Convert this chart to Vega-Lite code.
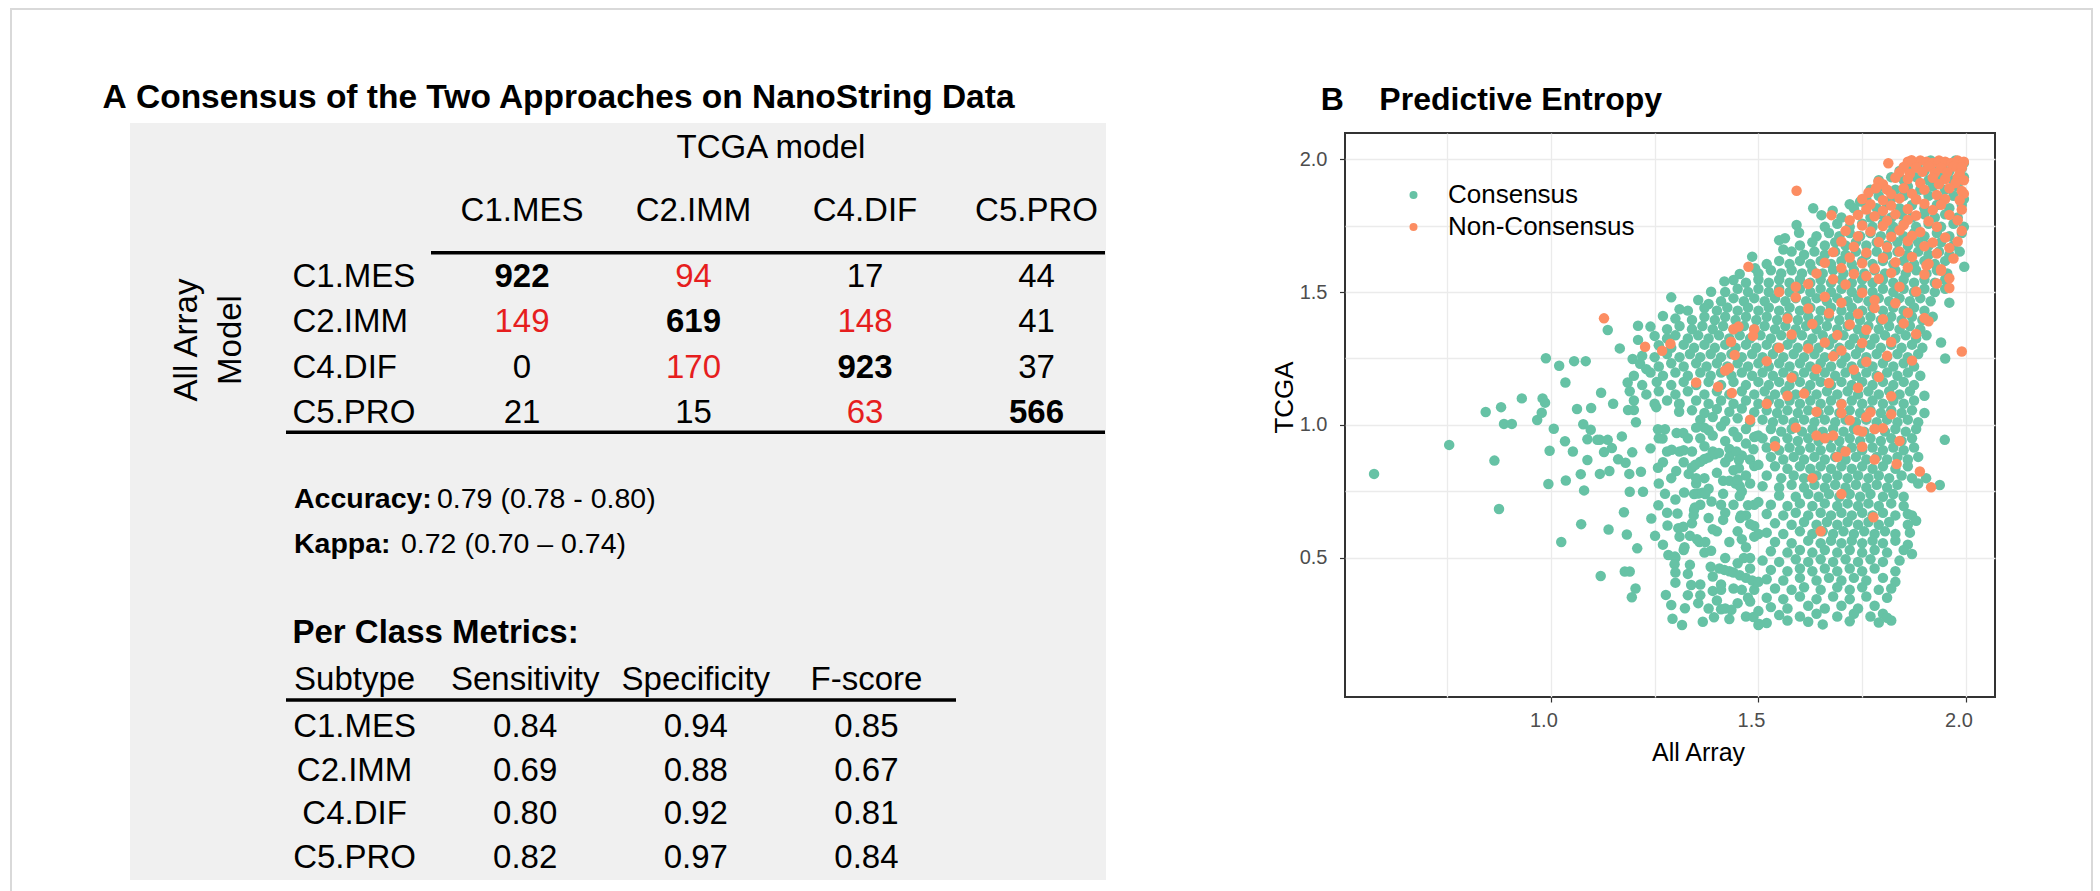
{
"$schema":"https://vega.github.io/schema/vega-lite/v6.json",
"width":650,"height":564,
"autosize":{"type":"none"},
"padding":{"left":1345,"top":133,"right":105,"bottom":194},
"background":"white",
"config":{"font":"Liberation Sans","view":{"stroke":"#333333","strokeWidth":2}},
"datasets":{
"cols":[{"c":"C1.MES"},{"c":"C2.IMM"},{"c":"C4.DIF"},{"c":"C5.PRO"}],
"cm":[
{"r":"C1.MES","c":"C1.MES","n":922},{"r":"C1.MES","c":"C2.IMM","n":94},{"r":"C1.MES","c":"C4.DIF","n":17},{"r":"C1.MES","c":"C5.PRO","n":44},
{"r":"C2.IMM","c":"C1.MES","n":149},{"r":"C2.IMM","c":"C2.IMM","n":619},{"r":"C2.IMM","c":"C4.DIF","n":148},{"r":"C2.IMM","c":"C5.PRO","n":41},
{"r":"C4.DIF","c":"C1.MES","n":0},{"r":"C4.DIF","c":"C2.IMM","n":170},{"r":"C4.DIF","c":"C4.DIF","n":923},{"r":"C4.DIF","c":"C5.PRO","n":37},
{"r":"C5.PRO","c":"C1.MES","n":21},{"r":"C5.PRO","c":"C2.IMM","n":15},{"r":"C5.PRO","c":"C4.DIF","n":63},{"r":"C5.PRO","c":"C5.PRO","n":566}],
"agree":[{"k":"Accuracy:","v":"0.79 (0.78 - 0.80)"},{"k":"Kappa:","v":"0.72 (0.70 – 0.74)"}],
"mhead":[{"h":"Subtype"},{"h":"Sensitivity"},{"h":"Specificity"},{"h":"F-score"}],
"metrics":[
{"Subtype":"C1.MES","Sensitivity":0.84,"Specificity":0.94,"F-score":0.85},
{"Subtype":"C2.IMM","Sensitivity":0.69,"Specificity":0.88,"F-score":0.67},
{"Subtype":"C4.DIF","Sensitivity":0.80,"Specificity":0.92,"F-score":0.81},
{"Subtype":"C5.PRO","Sensitivity":0.82,"Specificity":0.97,"F-score":0.84}],
"cons":[
{"a":1.885,"t":1.985},{"a":1.915,"t":1.995},{"a":1.945,"t":1.985},{"a":1.975,"t":1.995},{"a":1.995,"t":1.985},
{"a":1.84,"t":1.955},{"a":1.87,"t":1.965},{"a":1.9,"t":1.955},{"a":1.93,"t":1.965},{"a":1.96,"t":1.955},{"a":1.99,"t":1.965},
{"a":1.79,"t":1.92},{"a":1.82,"t":1.932},{"a":1.85,"t":1.92},{"a":1.88,"t":1.932},{"a":1.91,"t":1.92},{"a":1.94,"t":1.932},{"a":1.97,"t":1.92},{"a":1.995,"t":1.932},
{"a":1.77,"t":1.885},{"a":1.8,"t":1.897},{"a":1.83,"t":1.885},{"a":1.86,"t":1.897},{"a":1.89,"t":1.885},{"a":1.92,"t":1.897},{"a":1.95,"t":1.885},{"a":1.98,"t":1.897},
{"a":1.72,"t":1.83},{"a":1.745,"t":1.84},{"a":1.76,"t":1.85},{"a":1.79,"t":1.862},{"a":1.82,"t":1.85},{"a":1.85,"t":1.862},{"a":1.88,"t":1.85},{"a":1.91,"t":1.862},{"a":1.94,"t":1.85},{"a":1.97,"t":1.862},{"a":1.995,"t":1.85},
{"a":1.632,"t":1.815},{"a":1.679,"t":1.806},{"a":1.73,"t":1.815},{"a":1.76,"t":1.827},{"a":1.785,"t":1.815},{"a":1.81,"t":1.827},{"a":1.84,"t":1.815},{"a":1.87,"t":1.827},{"a":1.9,"t":1.815},{"a":1.93,"t":1.827},{"a":1.96,"t":1.815},{"a":1.99,"t":1.827},
{"a":1.652,"t":1.789},{"a":1.7,"t":1.78},{"a":1.74,"t":1.792},{"a":1.77,"t":1.78},{"a":1.795,"t":1.792},{"a":1.82,"t":1.78},{"a":1.845,"t":1.792},{"a":1.87,"t":1.78},{"a":1.9,"t":1.792},{"a":1.925,"t":1.78},{"a":1.95,"t":1.792},{"a":1.98,"t":1.78},
{"a":1.592,"t":1.752},{"a":1.66,"t":1.745},{"a":1.69,"t":1.757},{"a":1.72,"t":1.745},{"a":1.75,"t":1.757},{"a":1.775,"t":1.745},{"a":1.8,"t":1.757},{"a":1.825,"t":1.745},{"a":1.85,"t":1.757},{"a":1.88,"t":1.745},{"a":1.91,"t":1.757},{"a":1.94,"t":1.745},{"a":1.97,"t":1.757},{"a":1.995,"t":1.745},
{"a":1.55,"t":1.695},{"a":1.598,"t":1.723},{"a":1.64,"t":1.71},{"a":1.67,"t":1.722},{"a":1.695,"t":1.71},{"a":1.72,"t":1.722},{"a":1.745,"t":1.71},{"a":1.77,"t":1.722},{"a":1.795,"t":1.71},{"a":1.82,"t":1.722},{"a":1.85,"t":1.71},{"a":1.875,"t":1.722},{"a":1.9,"t":1.71},{"a":1.93,"t":1.722},{"a":1.96,"t":1.71},{"a":1.99,"t":1.722},
{"a":1.564,"t":1.702},{"a":1.6,"t":1.675},{"a":1.63,"t":1.687},{"a":1.66,"t":1.675},{"a":1.685,"t":1.687},{"a":1.71,"t":1.675},{"a":1.735,"t":1.687},{"a":1.76,"t":1.675},{"a":1.785,"t":1.687},{"a":1.81,"t":1.675},{"a":1.835,"t":1.687},{"a":1.86,"t":1.675},{"a":1.885,"t":1.687},{"a":1.91,"t":1.675},{"a":1.94,"t":1.687},{"a":1.97,"t":1.675},
{"a":1.485,"t":1.633},{"a":1.56,"t":1.66},{"a":1.58,"t":1.652},{"a":1.61,"t":1.64},{"a":1.635,"t":1.652},{"a":1.66,"t":1.64},{"a":1.685,"t":1.652},{"a":1.71,"t":1.64},{"a":1.735,"t":1.652},{"a":1.76,"t":1.64},{"a":1.785,"t":1.652},{"a":1.81,"t":1.64},{"a":1.835,"t":1.652},{"a":1.86,"t":1.64},{"a":1.885,"t":1.652},{"a":1.91,"t":1.64},{"a":1.935,"t":1.652},{"a":1.96,"t":1.64},{"a":1.985,"t":1.652},
{"a":1.492,"t":1.589},{"a":1.52,"t":1.605},{"a":1.55,"t":1.617},{"a":1.575,"t":1.605},{"a":1.6,"t":1.617},{"a":1.625,"t":1.605},{"a":1.65,"t":1.617},{"a":1.675,"t":1.605},{"a":1.7,"t":1.617},{"a":1.725,"t":1.605},{"a":1.75,"t":1.617},{"a":1.775,"t":1.605},{"a":1.8,"t":1.617},{"a":1.825,"t":1.605},{"a":1.85,"t":1.617},{"a":1.875,"t":1.605},{"a":1.9,"t":1.617},{"a":1.925,"t":1.605},{"a":1.95,"t":1.617},{"a":1.996,"t":1.595},
{"a":1.455,"t":1.568},{"a":1.5,"t":1.57},{"a":1.53,"t":1.582},{"a":1.555,"t":1.57},{"a":1.58,"t":1.582},{"a":1.605,"t":1.57},{"a":1.63,"t":1.582},{"a":1.655,"t":1.57},{"a":1.68,"t":1.582},{"a":1.705,"t":1.57},{"a":1.73,"t":1.582},{"a":1.755,"t":1.57},{"a":1.78,"t":1.582},{"a":1.805,"t":1.57},{"a":1.83,"t":1.582},{"a":1.855,"t":1.57},{"a":1.88,"t":1.582},{"a":1.905,"t":1.57},{"a":1.93,"t":1.582},{"a":1.955,"t":1.57},
{"a":1.418,"t":1.54},{"a":1.44,"t":1.545},{"a":1.47,"t":1.535},{"a":1.5,"t":1.547},{"a":1.525,"t":1.535},{"a":1.55,"t":1.547},{"a":1.575,"t":1.535},{"a":1.6,"t":1.547},{"a":1.625,"t":1.535},{"a":1.65,"t":1.547},{"a":1.675,"t":1.535},{"a":1.7,"t":1.547},{"a":1.725,"t":1.535},{"a":1.75,"t":1.547},{"a":1.775,"t":1.535},{"a":1.8,"t":1.547},{"a":1.825,"t":1.535},{"a":1.85,"t":1.547},{"a":1.875,"t":1.535},{"a":1.9,"t":1.547},{"a":1.925,"t":1.535},{"a":1.95,"t":1.547},
{"a":1.386,"t":1.501},{"a":1.42,"t":1.5},{"a":1.45,"t":1.512},{"a":1.475,"t":1.5},{"a":1.5,"t":1.512},{"a":1.525,"t":1.5},{"a":1.55,"t":1.512},{"a":1.575,"t":1.5},{"a":1.6,"t":1.512},{"a":1.625,"t":1.5},{"a":1.65,"t":1.512},{"a":1.675,"t":1.5},{"a":1.7,"t":1.512},{"a":1.725,"t":1.5},{"a":1.75,"t":1.512},{"a":1.775,"t":1.5},{"a":1.8,"t":1.512},{"a":1.825,"t":1.5},{"a":1.85,"t":1.512},{"a":1.875,"t":1.5},{"a":1.9,"t":1.512},{"a":1.925,"t":1.5},{"a":1.95,"t":1.512},
{"a":1.29,"t":1.48},{"a":1.355,"t":1.47},{"a":1.38,"t":1.455},{"a":1.41,"t":1.465},{"a":1.44,"t":1.477},{"a":1.465,"t":1.465},{"a":1.49,"t":1.477},{"a":1.515,"t":1.465},{"a":1.54,"t":1.477},{"a":1.565,"t":1.465},{"a":1.59,"t":1.477},{"a":1.615,"t":1.465},{"a":1.64,"t":1.477},{"a":1.665,"t":1.465},{"a":1.69,"t":1.477},{"a":1.715,"t":1.465},{"a":1.74,"t":1.477},{"a":1.765,"t":1.465},{"a":1.79,"t":1.477},{"a":1.815,"t":1.465},{"a":1.84,"t":1.477},{"a":1.865,"t":1.465},{"a":1.89,"t":1.477},{"a":1.915,"t":1.465},{"a":1.96,"t":1.46},
{"a":1.31,"t":1.435},{"a":1.33,"t":1.43},{"a":1.37,"t":1.44},{"a":1.4,"t":1.43},{"a":1.425,"t":1.442},{"a":1.45,"t":1.43},{"a":1.475,"t":1.442},{"a":1.5,"t":1.43},{"a":1.525,"t":1.442},{"a":1.55,"t":1.43},{"a":1.575,"t":1.442},{"a":1.6,"t":1.43},{"a":1.625,"t":1.442},{"a":1.65,"t":1.43},{"a":1.675,"t":1.442},{"a":1.7,"t":1.43},{"a":1.725,"t":1.442},{"a":1.75,"t":1.43},{"a":1.775,"t":1.442},{"a":1.8,"t":1.43},{"a":1.825,"t":1.442},{"a":1.85,"t":1.43},{"a":1.875,"t":1.442},{"a":1.9,"t":1.43},
{"a":1.27,"t":1.41},{"a":1.3,"t":1.4},{"a":1.34,"t":1.395},{"a":1.37,"t":1.407},{"a":1.395,"t":1.395},{"a":1.42,"t":1.407},{"a":1.445,"t":1.395},{"a":1.47,"t":1.407},{"a":1.495,"t":1.395},{"a":1.52,"t":1.407},{"a":1.545,"t":1.395},{"a":1.57,"t":1.407},{"a":1.595,"t":1.395},{"a":1.62,"t":1.407},{"a":1.645,"t":1.395},{"a":1.67,"t":1.407},{"a":1.695,"t":1.395},{"a":1.72,"t":1.407},{"a":1.745,"t":1.395},{"a":1.77,"t":1.407},{"a":1.795,"t":1.395},{"a":1.82,"t":1.407},{"a":1.845,"t":1.395},{"a":1.87,"t":1.407},{"a":1.895,"t":1.395},{"a":1.92,"t":1.407},
{"a":1.137,"t":1.357},{"a":1.21,"t":1.373},{"a":1.24,"t":1.37},{"a":1.28,"t":1.36},{"a":1.31,"t":1.372},{"a":1.34,"t":1.36},{"a":1.365,"t":1.372},{"a":1.39,"t":1.36},{"a":1.415,"t":1.372},{"a":1.44,"t":1.36},{"a":1.465,"t":1.372},{"a":1.49,"t":1.36},{"a":1.515,"t":1.372},{"a":1.54,"t":1.36},{"a":1.565,"t":1.372},{"a":1.59,"t":1.36},{"a":1.615,"t":1.372},{"a":1.64,"t":1.36},{"a":1.665,"t":1.372},{"a":1.69,"t":1.36},{"a":1.715,"t":1.372},{"a":1.74,"t":1.36},{"a":1.765,"t":1.372},{"a":1.79,"t":1.36},{"a":1.815,"t":1.372},{"a":1.84,"t":1.36},{"a":1.865,"t":1.372},{"a":1.89,"t":1.36},
{"a":1.21,"t":1.32},{"a":1.25,"t":1.335},{"a":1.28,"t":1.325},{"a":1.3,"t":1.337},{"a":1.33,"t":1.325},{"a":1.355,"t":1.337},{"a":1.38,"t":1.325},{"a":1.405,"t":1.337},{"a":1.43,"t":1.325},{"a":1.455,"t":1.337},{"a":1.48,"t":1.325},{"a":1.505,"t":1.337},{"a":1.53,"t":1.325},{"a":1.555,"t":1.337},{"a":1.58,"t":1.325},{"a":1.605,"t":1.337},{"a":1.63,"t":1.325},{"a":1.655,"t":1.337},{"a":1.68,"t":1.325},{"a":1.705,"t":1.337},{"a":1.73,"t":1.325},{"a":1.755,"t":1.337},{"a":1.78,"t":1.325},{"a":1.805,"t":1.337},{"a":1.83,"t":1.325},{"a":1.855,"t":1.337},{"a":1.88,"t":1.325},{"a":1.905,"t":1.337},{"a":1.94,"t":1.31},
{"a":1.166,"t":1.288},{"a":1.22,"t":1.26},{"a":1.26,"t":1.3},{"a":1.29,"t":1.29},{"a":1.32,"t":1.302},{"a":1.345,"t":1.29},{"a":1.37,"t":1.302},{"a":1.395,"t":1.29},{"a":1.42,"t":1.302},{"a":1.445,"t":1.29},{"a":1.47,"t":1.302},{"a":1.495,"t":1.29},{"a":1.52,"t":1.302},{"a":1.545,"t":1.29},{"a":1.57,"t":1.302},{"a":1.595,"t":1.29},{"a":1.62,"t":1.302},{"a":1.645,"t":1.29},{"a":1.67,"t":1.302},{"a":1.695,"t":1.29},{"a":1.72,"t":1.302},{"a":1.745,"t":1.29},{"a":1.77,"t":1.302},{"a":1.795,"t":1.29},{"a":1.82,"t":1.302},{"a":1.845,"t":1.29},{"a":1.87,"t":1.302},{"a":1.895,"t":1.29},
{"a":0.988,"t":1.251},{"a":1.084,"t":1.24},{"a":1.197,"t":1.248},{"a":1.215,"t":1.23},{"a":1.25,"t":1.255},{"a":1.28,"t":1.267},{"a":1.31,"t":1.255},{"a":1.335,"t":1.267},{"a":1.36,"t":1.255},{"a":1.385,"t":1.267},{"a":1.41,"t":1.255},{"a":1.435,"t":1.267},{"a":1.46,"t":1.255},{"a":1.485,"t":1.267},{"a":1.51,"t":1.255},{"a":1.535,"t":1.267},{"a":1.56,"t":1.255},{"a":1.585,"t":1.267},{"a":1.61,"t":1.255},{"a":1.635,"t":1.267},{"a":1.66,"t":1.255},{"a":1.685,"t":1.267},{"a":1.71,"t":1.255},{"a":1.735,"t":1.267},{"a":1.76,"t":1.255},{"a":1.785,"t":1.267},{"a":1.81,"t":1.255},{"a":1.835,"t":1.267},{"a":1.86,"t":1.255},{"a":1.885,"t":1.267},{"a":1.95,"t":1.25},
{"a":1.02,"t":1.223},{"a":1.056,"t":1.24},{"a":1.23,"t":1.21},{"a":1.26,"t":1.22},{"a":1.29,"t":1.232},{"a":1.32,"t":1.22},{"a":1.35,"t":1.232},{"a":1.375,"t":1.22},{"a":1.4,"t":1.232},{"a":1.425,"t":1.22},{"a":1.45,"t":1.232},{"a":1.475,"t":1.22},{"a":1.5,"t":1.232},{"a":1.525,"t":1.22},{"a":1.55,"t":1.232},{"a":1.575,"t":1.22},{"a":1.6,"t":1.232},{"a":1.625,"t":1.22},{"a":1.65,"t":1.232},{"a":1.675,"t":1.22},{"a":1.7,"t":1.232},{"a":1.725,"t":1.22},{"a":1.75,"t":1.232},{"a":1.775,"t":1.22},{"a":1.8,"t":1.232},{"a":1.825,"t":1.22},{"a":1.85,"t":1.232},{"a":1.875,"t":1.22},
{"a":1.2,"t":1.185},{"a":1.24,"t":1.197},{"a":1.27,"t":1.185},{"a":1.3,"t":1.197},{"a":1.33,"t":1.185},{"a":1.36,"t":1.197},{"a":1.385,"t":1.185},{"a":1.41,"t":1.197},{"a":1.435,"t":1.185},{"a":1.46,"t":1.197},{"a":1.485,"t":1.185},{"a":1.51,"t":1.197},{"a":1.535,"t":1.185},{"a":1.56,"t":1.197},{"a":1.585,"t":1.185},{"a":1.61,"t":1.197},{"a":1.635,"t":1.185},{"a":1.66,"t":1.197},{"a":1.685,"t":1.185},{"a":1.71,"t":1.197},{"a":1.735,"t":1.185},{"a":1.76,"t":1.197},{"a":1.785,"t":1.185},{"a":1.81,"t":1.197},{"a":1.835,"t":1.185},{"a":1.86,"t":1.197},{"a":1.89,"t":1.185},
{"a":1.035,"t":1.16},{"a":1.185,"t":1.16},{"a":1.22,"t":1.15},{"a":1.255,"t":1.162},{"a":1.29,"t":1.15},{"a":1.32,"t":1.162},{"a":1.35,"t":1.15},{"a":1.38,"t":1.162},{"a":1.41,"t":1.15},{"a":1.44,"t":1.162},{"a":1.47,"t":1.15},{"a":1.5,"t":1.162},{"a":1.525,"t":1.15},{"a":1.55,"t":1.162},{"a":1.575,"t":1.15},{"a":1.6,"t":1.162},{"a":1.625,"t":1.15},{"a":1.65,"t":1.162},{"a":1.675,"t":1.15},{"a":1.7,"t":1.162},{"a":1.725,"t":1.15},{"a":1.75,"t":1.162},{"a":1.775,"t":1.15},{"a":1.8,"t":1.162},{"a":1.825,"t":1.15},{"a":1.85,"t":1.162},{"a":1.875,"t":1.15},
{"a":0.93,"t":1.1},{"a":0.98,"t":1.1},{"a":1.121,"t":1.121},{"a":1.19,"t":1.127},{"a":1.23,"t":1.115},{"a":1.26,"t":1.127},{"a":1.3,"t":1.115},{"a":1.33,"t":1.127},{"a":1.37,"t":1.115},{"a":1.4,"t":1.127},{"a":1.43,"t":1.115},{"a":1.46,"t":1.127},{"a":1.49,"t":1.115},{"a":1.515,"t":1.127},{"a":1.54,"t":1.115},{"a":1.565,"t":1.127},{"a":1.59,"t":1.115},{"a":1.615,"t":1.127},{"a":1.64,"t":1.115},{"a":1.665,"t":1.127},{"a":1.69,"t":1.115},{"a":1.715,"t":1.127},{"a":1.74,"t":1.115},{"a":1.765,"t":1.127},{"a":1.79,"t":1.115},{"a":1.815,"t":1.127},{"a":1.84,"t":1.115},{"a":1.865,"t":1.127},{"a":1.9,"t":1.11},
{"a":1.15,"t":1.08},{"a":1.2,"t":1.092},{"a":1.25,"t":1.08},{"a":1.28,"t":1.092},{"a":1.31,"t":1.08},{"a":1.35,"t":1.092},{"a":1.38,"t":1.08},{"a":1.41,"t":1.092},{"a":1.44,"t":1.08},{"a":1.47,"t":1.092},{"a":1.5,"t":1.08},{"a":1.525,"t":1.092},{"a":1.55,"t":1.08},{"a":1.575,"t":1.092},{"a":1.6,"t":1.08},{"a":1.625,"t":1.092},{"a":1.65,"t":1.08},{"a":1.675,"t":1.092},{"a":1.7,"t":1.08},{"a":1.725,"t":1.092},{"a":1.75,"t":1.08},{"a":1.775,"t":1.092},{"a":1.8,"t":1.08},{"a":1.825,"t":1.092},{"a":1.85,"t":1.08},{"a":1.875,"t":1.092},
{"a":1.52,"t":1.055},{"a":1.545,"t":1.045},{"a":1.57,"t":1.055},{"a":1.595,"t":1.045},{"a":1.62,"t":1.055},{"a":1.645,"t":1.045},{"a":1.67,"t":1.055},{"a":1.695,"t":1.045},{"a":1.72,"t":1.055},{"a":1.745,"t":1.045},{"a":1.77,"t":1.055},{"a":1.795,"t":1.045},{"a":1.82,"t":1.055},{"a":1.845,"t":1.045},{"a":1.87,"t":1.055},{"a":1.9,"t":1.045},
{"a":1.51,"t":1.02},{"a":1.535,"t":1.01},{"a":1.56,"t":1.02},{"a":1.585,"t":1.01},{"a":1.61,"t":1.02},{"a":1.635,"t":1.01},{"a":1.66,"t":1.02},{"a":1.685,"t":1.01},{"a":1.71,"t":1.02},{"a":1.735,"t":1.01},{"a":1.76,"t":1.02},{"a":1.785,"t":1.01},{"a":1.81,"t":1.02},{"a":1.835,"t":1.01},{"a":1.86,"t":1.02},{"a":1.885,"t":1.01},
{"a":1.53,"t":0.985},{"a":1.555,"t":0.975},{"a":1.58,"t":0.985},{"a":1.605,"t":0.975},{"a":1.63,"t":0.985},{"a":1.655,"t":0.975},{"a":1.68,"t":0.985},{"a":1.705,"t":0.975},{"a":1.73,"t":0.985},{"a":1.755,"t":0.975},{"a":1.78,"t":0.985},{"a":1.805,"t":0.975},{"a":1.83,"t":0.985},{"a":1.855,"t":0.975},{"a":1.88,"t":0.985},
{"a":1.51,"t":0.95},{"a":1.54,"t":0.94},{"a":1.57,"t":0.95},{"a":1.595,"t":0.94},{"a":1.62,"t":0.95},{"a":1.645,"t":0.94},{"a":1.67,"t":0.95},{"a":1.695,"t":0.94},{"a":1.72,"t":0.95},{"a":1.745,"t":0.94},{"a":1.77,"t":0.95},{"a":1.795,"t":0.94},{"a":1.82,"t":0.95},{"a":1.845,"t":0.94},{"a":1.87,"t":0.95},{"a":1.949,"t":0.944},
{"a":1.52,"t":0.915},{"a":1.55,"t":0.905},{"a":1.575,"t":0.915},{"a":1.6,"t":0.905},{"a":1.625,"t":0.915},{"a":1.65,"t":0.905},{"a":1.675,"t":0.915},{"a":1.7,"t":0.905},{"a":1.725,"t":0.915},{"a":1.75,"t":0.905},{"a":1.775,"t":0.915},{"a":1.8,"t":0.905},{"a":1.825,"t":0.915},{"a":1.85,"t":0.905},{"a":1.875,"t":0.915},
{"a":1.53,"t":0.88},{"a":1.56,"t":0.87},{"a":1.585,"t":0.88},{"a":1.61,"t":0.87},{"a":1.635,"t":0.88},{"a":1.66,"t":0.87},{"a":1.685,"t":0.88},{"a":1.71,"t":0.87},{"a":1.735,"t":0.88},{"a":1.76,"t":0.87},{"a":1.785,"t":0.88},{"a":1.81,"t":0.87},{"a":1.835,"t":0.88},{"a":1.86,"t":0.87},{"a":1.885,"t":0.88},
{"a":1.54,"t":0.845},{"a":1.57,"t":0.835},{"a":1.6,"t":0.845},{"a":1.625,"t":0.835},{"a":1.65,"t":0.845},{"a":1.675,"t":0.835},{"a":1.7,"t":0.845},{"a":1.725,"t":0.835},{"a":1.75,"t":0.845},{"a":1.775,"t":0.835},{"a":1.8,"t":0.845},{"a":1.83,"t":0.835},{"a":1.86,"t":0.845},{"a":1.904,"t":0.8},
{"a":1.52,"t":0.81},{"a":1.555,"t":0.8},{"a":1.585,"t":0.81},{"a":1.61,"t":0.8},{"a":1.64,"t":0.81},{"a":1.665,"t":0.8},{"a":1.69,"t":0.81},{"a":1.715,"t":0.8},{"a":1.74,"t":0.81},{"a":1.765,"t":0.8},{"a":1.79,"t":0.81},{"a":1.815,"t":0.8},{"a":1.845,"t":0.81},{"a":1.87,"t":0.8},
{"a":1.51,"t":0.77},{"a":1.55,"t":0.765},{"a":1.58,"t":0.775},{"a":1.61,"t":0.765},{"a":1.635,"t":0.775},{"a":1.66,"t":0.765},{"a":1.685,"t":0.775},{"a":1.71,"t":0.765},{"a":1.735,"t":0.775},{"a":1.76,"t":0.765},{"a":1.785,"t":0.775},{"a":1.81,"t":0.765},{"a":1.835,"t":0.775},{"a":1.885,"t":0.78},{"a":1.937,"t":0.774},
{"a":1.55,"t":0.735},{"a":1.59,"t":0.73},{"a":1.62,"t":0.74},{"a":1.645,"t":0.73},{"a":1.67,"t":0.74},{"a":1.695,"t":0.73},{"a":1.72,"t":0.74},{"a":1.745,"t":0.73},{"a":1.77,"t":0.74},{"a":1.8,"t":0.73},{"a":1.825,"t":0.74},{"a":1.85,"t":0.73},
{"a":1.53,"t":0.7},{"a":1.57,"t":0.695},{"a":1.6,"t":0.705},{"a":1.63,"t":0.695},{"a":1.66,"t":0.705},{"a":1.69,"t":0.695},{"a":1.715,"t":0.705},{"a":1.74,"t":0.695},{"a":1.765,"t":0.705},{"a":1.79,"t":0.695},{"a":1.82,"t":0.705},{"a":1.85,"t":0.695},{"a":1.87,"t":0.66},
{"a":1.52,"t":0.665},{"a":1.56,"t":0.66},{"a":1.59,"t":0.67},{"a":1.62,"t":0.66},{"a":1.65,"t":0.67},{"a":1.675,"t":0.66},{"a":1.7,"t":0.67},{"a":1.725,"t":0.66},{"a":1.75,"t":0.67},{"a":1.775,"t":0.66},{"a":1.8,"t":0.67},{"a":1.83,"t":0.66},{"a":1.86,"t":0.665},
{"a":1.54,"t":0.63},{"a":1.58,"t":0.625},{"a":1.61,"t":0.635},{"a":1.64,"t":0.625},{"a":1.665,"t":0.635},{"a":1.69,"t":0.625},{"a":1.715,"t":0.635},{"a":1.74,"t":0.625},{"a":1.765,"t":0.635},{"a":1.79,"t":0.625},{"a":1.815,"t":0.635},{"a":1.86,"t":0.625},{"a":1.88,"t":0.64},
{"a":1.52,"t":0.595},{"a":1.56,"t":0.59},{"a":1.6,"t":0.6},{"a":1.63,"t":0.59},{"a":1.655,"t":0.6},{"a":1.68,"t":0.59},{"a":1.705,"t":0.6},{"a":1.73,"t":0.59},{"a":1.755,"t":0.6},{"a":1.78,"t":0.59},{"a":1.805,"t":0.6},{"a":1.83,"t":0.59},{"a":1.865,"t":0.595},
{"a":1.54,"t":0.56},{"a":1.58,"t":0.555},{"a":1.62,"t":0.565},{"a":1.65,"t":0.555},{"a":1.675,"t":0.565},{"a":1.7,"t":0.555},{"a":1.725,"t":0.565},{"a":1.75,"t":0.555},{"a":1.775,"t":0.565},{"a":1.8,"t":0.555},{"a":1.83,"t":0.565},{"a":1.86,"t":0.55},
{"a":1.53,"t":0.525},{"a":1.57,"t":0.52},{"a":1.6,"t":0.53},{"a":1.63,"t":0.52},{"a":1.66,"t":0.53},{"a":1.69,"t":0.52},{"a":1.72,"t":0.53},{"a":1.75,"t":0.52},{"a":1.78,"t":0.53},{"a":1.81,"t":0.52},{"a":1.85,"t":0.53},{"a":1.87,"t":0.515},
{"a":1.51,"t":0.49},{"a":1.55,"t":0.485},{"a":1.59,"t":0.495},{"a":1.62,"t":0.485},{"a":1.65,"t":0.495},{"a":1.68,"t":0.485},{"a":1.71,"t":0.495},{"a":1.74,"t":0.485},{"a":1.77,"t":0.495},{"a":1.8,"t":0.485},{"a":1.84,"t":0.49},
{"a":1.53,"t":0.455},{"a":1.57,"t":0.45},{"a":1.6,"t":0.46},{"a":1.63,"t":0.45},{"a":1.66,"t":0.46},{"a":1.69,"t":0.45},{"a":1.72,"t":0.46},{"a":1.75,"t":0.45},{"a":1.78,"t":0.46},{"a":1.83,"t":0.45},
{"a":1.52,"t":0.42},{"a":1.56,"t":0.415},{"a":1.6,"t":0.425},{"a":1.64,"t":0.415},{"a":1.67,"t":0.425},{"a":1.7,"t":0.415},{"a":1.73,"t":0.425},{"a":1.76,"t":0.415},{"a":1.8,"t":0.425},{"a":1.83,"t":0.41},
{"a":1.54,"t":0.385},{"a":1.58,"t":0.38},{"a":1.61,"t":0.39},{"a":1.65,"t":0.38},{"a":1.69,"t":0.39},{"a":1.72,"t":0.38},{"a":1.75,"t":0.39},{"a":1.79,"t":0.38},{"a":1.82,"t":0.385},
{"a":1.52,"t":0.35},{"a":1.56,"t":0.345},{"a":1.6,"t":0.355},{"a":1.64,"t":0.345},{"a":1.68,"t":0.355},{"a":1.72,"t":0.345},{"a":1.76,"t":0.355},{"a":1.81,"t":0.35},
{"a":1.53,"t":0.315},{"a":1.57,"t":0.31},{"a":1.62,"t":0.32},{"a":1.66,"t":0.31},{"a":1.7,"t":0.32},{"a":1.74,"t":0.31},{"a":1.78,"t":0.32},
{"a":1.55,"t":0.285},{"a":1.6,"t":0.28},{"a":1.64,"t":0.29},{"a":1.69,"t":0.28},{"a":1.73,"t":0.29},{"a":1.77,"t":0.28},{"a":1.8,"t":0.29},
{"a":1.52,"t":0.255},{"a":1.57,"t":0.265},{"a":1.62,"t":0.26},{"a":1.655,"t":0.25},{"a":1.72,"t":0.262},{"a":1.79,"t":0.257},{"a":1.82,"t":0.265},{"a":1.81,"t":0.275},
{"a":1.34,"t":1.055},{"a":1.37,"t":1.045},{"a":1.4,"t":1.06},{"a":1.43,"t":1.05},{"a":1.46,"t":1.062},{"a":1.49,"t":1.048},{"a":1.36,"t":1.02},{"a":1.39,"t":1.03},{"a":1.42,"t":1.015},{"a":1.45,"t":1.025},{"a":1.48,"t":1.01},{"a":1.35,"t":0.99},{"a":1.38,"t":0.98},{"a":1.41,"t":0.995},{"a":1.44,"t":0.975},{"a":1.47,"t":0.985},{"a":1.36,"t":0.95},{"a":1.39,"t":0.96},{"a":1.42,"t":0.94},{"a":1.45,"t":0.955},{"a":1.47,"t":0.93},{"a":1.37,"t":0.92},{"a":1.43,"t":0.91},{"a":1.46,"t":0.885},{"a":1.42,"t":0.86},{"a":1.4,"t":0.82},{"a":1.47,"t":0.81},{"a":1.44,"t":0.83},{"a":1.48,"t":0.87},
{"a":1.26,"t":0.95},{"a":1.28,"t":0.9},{"a":1.27,"t":0.86},{"a":1.29,"t":0.8},{"a":1.26,"t":0.78},{"a":1.3,"t":0.72},{"a":1.28,"t":0.67},{"a":1.27,"t":0.55},{"a":1.31,"t":0.58},{"a":1.3,"t":0.5},{"a":1.33,"t":0.44},{"a":1.34,"t":0.63},{"a":1.36,"t":0.7},{"a":1.38,"t":0.65},{"a":1.4,"t":0.6},{"a":1.37,"t":0.52},{"a":1.39,"t":0.43},{"a":1.42,"t":0.5},{"a":1.43,"t":0.56},{"a":1.45,"t":0.6},{"a":1.44,"t":0.7},{"a":1.42,"t":0.67},{"a":1.46,"t":0.75},{"a":1.48,"t":0.78},{"a":1.47,"t":0.66},{"a":1.49,"t":0.62},{"a":1.46,"t":0.57},{"a":1.48,"t":0.5},{"a":1.45,"t":0.48},{"a":1.4,"t":0.34},{"a":1.38,"t":0.31},{"a":1.45,"t":0.33},{"a":1.47,"t":0.28},{"a":1.43,"t":0.27},{"a":1.33,"t":0.36},{"a":1.36,"t":0.4},{"a":1.41,"t":0.4},{"a":1.48,"t":0.46},{"a":1.49,"t":0.38},{"a":1.46,"t":0.38},{"a":1.37,"t":0.99},{"a":1.33,"t":0.95},{"a":1.39,"t":0.9},{"a":1.43,"t":0.88},{"a":1.35,"t":0.78},{"a":1.38,"t":0.76},{"a":1.41,"t":0.7},{"a":1.32,"t":0.86},
{"a":0.574,"t":0.816},{"a":0.755,"t":0.925},{"a":0.864,"t":0.866},{"a":0.875,"t":0.684},{"a":0.843,"t":1.049},{"a":0.88,"t":1.067},{"a":0.887,"t":1.004},{"a":0.906,"t":1.004},{"a":0.967,"t":1.019},{"a":0.978,"t":1.046},{"a":0.986,"t":1.084},{"a":1.007,"t":0.986},{"a":0.997,"t":0.903},{"a":0.994,"t":0.778},{"a":1.025,"t":0.56},{"a":1.034,"t":0.939},{"a":1.036,"t":0.791},{"a":1.053,"t":0.9},{"a":1.063,"t":1.06},{"a":1.072,"t":0.815},{"a":1.073,"t":0.627},{"a":1.078,"t":1.003},{"a":1.08,"t":0.754},{"a":1.088,"t":0.868},{"a":1.088,"t":0.946},{"a":1.096,"t":0.982},{"a":1.097,"t":1.064},{"a":1.112,"t":0.944},{"a":1.118,"t":0.944},{"a":1.137,"t":0.944},{"a":1.118,"t":0.816},{"a":1.12,"t":0.432},{"a":1.128,"t":0.898},{"a":1.147,"t":0.913},{"a":1.139,"t":0.607},{"a":1.141,"t":0.827},{"a":1.162,"t":0.871},{"a":1.18,"t":0.858},{"a":1.171,"t":0.957},{"a":1.176,"t":0.672},{"a":1.183,"t":0.588},{"a":1.178,"t":0.449},{"a":1.19,"t":0.449},{"a":1.189,"t":0.816},{"a":1.19,"t":0.749},{"a":1.196,"t":0.897},{"a":1.186,"t":1.056},{"a":1.2,"t":1.056},{"a":1.205,"t":1.01},{"a":1.208,"t":0.536},{"a":1.204,"t":0.385},{"a":1.195,"t":0.352},{"a":1.217,"t":0.824},{"a":1.222,"t":0.749},{"a":1.24,"t":0.912},{"a":1.242,"t":0.648},{"a":1.251,"t":0.583},{"a":1.254,"t":1.067},{"a":1.258,"t":0.839},{"a":1.258,"t":0.984},{"a":1.275,"t":0.984},{"a":1.269,"t":0.949},{"a":1.275,"t":0.741},{"a":1.259,"t":0.698},{"a":1.277,"t":0.361},{"a":1.281,"t":0.622},{"a":1.283,"t":0.511},{"a":1.299,"t":0.505},{"a":1.291,"t":0.907},{"a":1.293,"t":0.271},{"a":1.29,"t":0.323},{"a":1.298,"t":0.476},{"a":1.3,"t":0.445},{"a":1.3,"t":0.407},{"a":1.302,"t":0.827},{"a":1.305,"t":0.667},{"a":1.303,"t":0.97},{"a":1.319,"t":0.97},{"a":1.307,"t":0.612},{"a":1.319,"t":0.617},{"a":1.31,"t":0.9},{"a":1.32,"t":0.905},{"a":1.34,"t":0.9},{"a":1.309,"t":1.05},{"a":1.309,"t":1.079},{"a":1.316,"t":0.248},{"a":1.32,"t":0.53},{"a":1.322,"t":0.54},{"a":1.323,"t":0.311},{"a":1.321,"t":0.746},{"a":1.332,"t":0.816},{"a":1.335,"t":0.583},{"a":1.335,"t":0.474},{"a":1.338,"t":0.398},{"a":1.34,"t":0.84},{"a":1.348,"t":0.85},{"a":1.36,"t":0.862},{"a":1.37,"t":0.872},{"a":1.38,"t":0.878},{"a":1.345,"t":0.74},{"a":1.355,"t":0.742},{"a":1.365,"t":0.745},{"a":1.372,"t":0.74},{"a":1.345,"t":0.68},{"a":1.344,"t":0.66},{"a":1.347,"t":0.69},{"a":1.35,"t":0.8},{"a":1.37,"t":0.8},{"a":1.352,"t":0.57},{"a":1.358,"t":0.56},{"a":1.372,"t":0.56},{"a":1.366,"t":0.26},{"a":1.36,"t":0.36},{"a":1.355,"t":0.33},{"a":1.386,"t":0.527},{"a":1.385,"t":0.467},{"a":1.39,"t":0.608},{"a":1.387,"t":0.712},{"a":1.393,"t":0.277},{"a":1.395,"t":0.89},{"a":1.405,"t":0.895},{"a":1.39,"t":0.376},{"a":1.41,"t":0.38},{"a":1.406,"t":0.46},{"a":1.418,"t":0.455},{"a":1.43,"t":0.45},{"a":1.44,"t":0.445},{"a":1.455,"t":0.435},{"a":1.47,"t":0.425},{"a":1.485,"t":0.415},{"a":1.41,"t":0.307},{"a":1.42,"t":0.31},{"a":1.435,"t":0.305},{"a":1.415,"t":0.741},{"a":1.415,"t":0.643},{"a":1.415,"t":0.79},{"a":1.43,"t":0.79},{"a":1.445,"t":0.78},{"a":1.455,"t":0.77},{"a":1.45,"t":0.795},{"a":1.44,"t":0.385},{"a":1.447,"t":0.9},{"a":1.453,"t":0.868},{"a":1.453,"t":0.837},{"a":1.455,"t":0.733},{"a":1.458,"t":0.66},{"a":1.456,"t":0.65},{"a":1.47,"t":0.54},{"a":1.465,"t":0.5},{"a":1.475,"t":0.35},{"a":1.48,"t":0.336},{"a":1.475,"t":0.698},{"a":1.48,"t":0.627},{"a":1.488,"t":0.278},{"a":1.5,"t":0.248},{"a":1.502,"t":0.252},{"a":1.49,"t":0.955},{"a":1.495,"t":0.958},{"a":1.5,"t":0.96},{"a":1.488,"t":0.909},{"a":1.49,"t":0.846},{"a":1.5,"t":0.85},{"a":1.49,"t":0.7},{"a":1.5,"t":0.71},{"a":1.5,"t":0.59},{"a":1.49,"t":0.58},{"a":1.5,"t":0.41},{"a":1.5,"t":0.3}
],
"non":[
{"a":1.86,"t":1.99},{"a":1.875,"t":1.985},{"a":1.89,"t":1.995},{"a":1.905,"t":1.99},{"a":1.92,"t":1.985},{"a":1.935,"t":1.995},{"a":1.95,"t":1.99},{"a":1.965,"t":1.985},{"a":1.98,"t":1.995},{"a":1.995,"t":1.99},{"a":1.813,"t":1.984},{"a":1.869,"t":1.996},
{"a":1.85,"t":1.97},{"a":1.88,"t":1.968},{"a":1.91,"t":1.972},{"a":1.94,"t":1.966},{"a":1.97,"t":1.972},{"a":1.99,"t":1.968},
{"a":1.84,"t":1.95},{"a":1.865,"t":1.945},{"a":1.895,"t":1.952},{"a":1.925,"t":1.948},{"a":1.955,"t":1.95},{"a":1.985,"t":1.945},
{"a":1.83,"t":1.93},{"a":1.86,"t":1.925},{"a":1.92,"t":1.93},{"a":1.95,"t":1.925},{"a":1.98,"t":1.93},{"a":1.995,"t":1.92},
{"a":1.789,"t":1.915},{"a":1.8,"t":1.905},{"a":1.89,"t":1.91},{"a":1.935,"t":1.905},{"a":1.975,"t":1.91},
{"a":1.783,"t":1.89},{"a":1.81,"t":1.885},{"a":1.85,"t":1.89},{"a":1.9,"t":1.885},{"a":1.96,"t":1.89},{"a":1.99,"t":1.88},
{"a":1.765,"t":1.873},{"a":1.82,"t":1.868},{"a":1.87,"t":1.87},{"a":1.93,"t":1.865},{"a":1.995,"t":1.87},
{"a":1.592,"t":1.881},
{"a":1.75,"t":1.85},{"a":1.8,"t":1.845},{"a":1.84,"t":1.852},{"a":1.88,"t":1.848},{"a":1.95,"t":1.85},{"a":1.985,"t":1.845},
{"a":1.77,"t":1.83},{"a":1.82,"t":1.825},{"a":1.9,"t":1.832},{"a":1.94,"t":1.828},
{"a":1.76,"t":1.81},{"a":1.8,"t":1.805},{"a":1.86,"t":1.812},{"a":1.92,"t":1.808},{"a":1.99,"t":1.81},
{"a":1.676,"t":1.789},{"a":1.74,"t":1.79},{"a":1.78,"t":1.785},{"a":1.83,"t":1.792},{"a":1.88,"t":1.788},{"a":1.96,"t":1.79},
{"a":1.72,"t":1.77},{"a":1.81,"t":1.768},{"a":1.86,"t":1.772},{"a":1.91,"t":1.766},{"a":1.98,"t":1.77},
{"a":1.75,"t":1.75},{"a":1.8,"t":1.748},{"a":1.85,"t":1.752},{"a":1.93,"t":1.745},
{"a":1.71,"t":1.73},{"a":1.77,"t":1.728},{"a":1.84,"t":1.732},{"a":1.89,"t":1.726},{"a":1.99,"t":1.73},
{"a":1.74,"t":1.71},{"a":1.82,"t":1.708},{"a":1.87,"t":1.712},{"a":1.95,"t":1.705},
{"a":1.7,"t":1.69},{"a":1.79,"t":1.688},{"a":1.86,"t":1.692},{"a":1.92,"t":1.686},{"a":1.98,"t":1.69},
{"a":1.73,"t":1.67},{"a":1.81,"t":1.668},{"a":1.9,"t":1.672},{"a":1.96,"t":1.666},
{"a":1.68,"t":1.65},{"a":1.76,"t":1.648},{"a":1.84,"t":1.652},{"a":1.93,"t":1.645},
{"a":1.72,"t":1.63},{"a":1.8,"t":1.628},{"a":1.87,"t":1.632},{"a":1.97,"t":1.626},
{"a":1.66,"t":1.61},{"a":1.75,"t":1.608},{"a":1.83,"t":1.612},{"a":1.91,"t":1.606},
{"a":1.476,"t":1.595},{"a":1.7,"t":1.59},{"a":1.78,"t":1.588},{"a":1.86,"t":1.592},{"a":1.94,"t":1.586},
{"a":1.64,"t":1.57},{"a":1.73,"t":1.568},{"a":1.82,"t":1.572},{"a":1.9,"t":1.566},
{"a":1.79,"t":1.55},{"a":1.76,"t":1.56},{"a":1.68,"t":1.548},{"a":1.96,"t":1.552},{"a":1.905,"t":1.6},{"a":1.94,"t":1.58},
{"a":1.62,"t":1.53},{"a":1.71,"t":1.528},{"a":1.84,"t":1.52},{"a":1.93,"t":1.532},
{"a":1.59,"t":1.52},{"a":1.96,"t":1.515},
{"a":1.55,"t":1.5},{"a":1.75,"t":1.497},{"a":1.88,"t":1.502},
{"a":1.59,"t":1.48},{"a":1.78,"t":1.47},{"a":1.66,"t":1.482},
{"a":1.7,"t":1.46},{"a":1.83,"t":1.458},{"a":1.91,"t":1.39},
{"a":1.78,"t":1.44},{"a":1.62,"t":1.438},
{"a":1.67,"t":1.42},{"a":1.74,"t":1.418},{"a":1.86,"t":1.422},
{"a":1.57,"t":1.4},{"a":1.128,"t":1.401},{"a":1.8,"t":1.398},{"a":1.9,"t":1.402},
{"a":1.63,"t":1.38},{"a":1.72,"t":1.378},{"a":1.85,"t":1.382},
{"a":1.49,"t":1.36},{"a":1.44,"t":1.36},{"a":1.76,"t":1.358},
{"a":1.58,"t":1.34},{"a":1.69,"t":1.338},{"a":1.88,"t":1.342},
{"a":1.487,"t":1.335},{"a":1.452,"t":1.37},
{"a":1.434,"t":1.313},{"a":1.66,"t":1.31},{"a":1.75,"t":1.308},{"a":1.82,"t":1.312},
{"a":1.227,"t":1.294},{"a":1.288,"t":1.305},{"a":1.55,"t":1.29},{"a":1.62,"t":1.288},
{"a":1.268,"t":1.279},{"a":1.99,"t":1.276},{"a":1.7,"t":1.28},
{"a":1.443,"t":1.263},{"a":1.81,"t":1.26},{"a":1.68,"t":1.258},
{"a":1.52,"t":1.24},{"a":1.76,"t":1.238},{"a":1.87,"t":1.242},
{"a":1.429,"t":1.214},{"a":1.42,"t":1.205},{"a":1.64,"t":1.21},{"a":1.73,"t":1.208},
{"a":1.79,"t":1.18},{"a":1.58,"t":1.178},{"a":1.35,"t":1.16},{"a":1.67,"t":1.158},
{"a":1.403,"t":1.144},{"a":1.74,"t":1.14},{"a":1.436,"t":1.12},{"a":1.61,"t":1.118},
{"a":1.57,"t":1.11},{"a":1.82,"t":1.108},{"a":1.52,"t":1.08},{"a":1.7,"t":1.078},
{"a":1.64,"t":1.05},{"a":1.77,"t":1.048},{"a":1.7,"t":1.045},{"a":1.76,"t":1.03},{"a":1.82,"t":1.04},
{"a":1.48,"t":1.02},{"a":1.72,"t":1.018},
{"a":1.59,"t":0.99},{"a":1.8,"t":0.988},{"a":1.74,"t":0.98},{"a":1.75,"t":0.975},{"a":1.78,"t":0.985},
{"a":1.66,"t":0.95},{"a":1.68,"t":0.96},{"a":1.64,"t":0.96},{"a":1.84,"t":0.94},
{"a":1.54,"t":0.92},{"a":1.75,"t":0.918},{"a":1.71,"t":0.9},
{"a":1.69,"t":0.88},{"a":1.78,"t":0.87},
{"a":1.833,"t":0.853},{"a":1.889,"t":0.825},{"a":1.63,"t":0.8},{"a":1.916,"t":0.766},{"a":1.7,"t":0.74},{"a":1.777,"t":0.653},{"a":1.65,"t":0.6}
]
},
"resolve":{"scale":{"x":"independent","y":"independent"}},
"layer":[
{"data":{"values":[{"p":"figure"}]},
 "mark":{"type":"rect","filled":false,"color":"#d9d9d9","strokeWidth":2},
 "encoding":{
  "x":{"field":"p","type":"nominal","scale":{"type":"band","domain":["figure"],"range":[-1334,747],"paddingInner":0,"paddingOuter":0},"axis":null},
  "y":{"field":"p","type":"nominal","scale":{"type":"band","domain":["figure"],"range":[-124,767],"paddingInner":0,"paddingOuter":0},"axis":null}}},
{"data":{"values":[{"p":"panel A"}]},
 "mark":{"type":"rect","color":"#f0f0f0"},
 "encoding":{
  "x":{"field":"p","type":"nominal","scale":{"type":"band","domain":["panel A"],"range":[-1215,-239],"paddingInner":0,"paddingOuter":0},"axis":null},
  "y":{"field":"p","type":"nominal","scale":{"type":"band","domain":["panel A"],"range":[-10,747],"paddingInner":0,"paddingOuter":0},"axis":null}}},
{"data":{"values":[{"t":"A\u00a0Consensus of the Two Approaches on NanoString Data"}]},
 "mark":{"type":"text","align":"left","baseline":"alphabetic","fontSize":33.5,"fontWeight":"bold","color":"black"},
 "encoding":{
  "x":{"datum":"title","type":"nominal","scale":{"type":"point","domain":["title"],"range":[-1242.5,-1242.5]},"axis":null},
  "y":{"datum":"title","type":"nominal","scale":{"type":"point","domain":["title"],"range":[-25,-25]},"axis":null},
  "text":{"field":"t"}}},
{"data":{"values":[{"t":"TCGA model"}]},
 "mark":{"type":"text","align":"center","baseline":"alphabetic","fontSize":33,"color":"black"},
 "encoding":{
  "x":{"datum":"tcga","type":"nominal","scale":{"type":"point","domain":["tcga"],"range":[-574,-574]},"axis":null},
  "y":{"datum":"tcga","type":"nominal","scale":{"type":"point","domain":["tcga"],"range":[25,25]},"axis":null},
  "text":{"field":"t"}}},
{"data":{"name":"cols"},
 "mark":{"type":"text","align":"center","baseline":"alphabetic","fontSize":33,"color":"black"},
 "encoding":{
  "x":{"field":"c","type":"nominal","scale":{"type":"point","domain":["C1.MES","C2.IMM","C4.DIF","C5.PRO"],"range":[-823,-308.5],"padding":0},"axis":null},
  "y":{"datum":"header","type":"nominal","scale":{"type":"point","domain":["header"],"range":[88,88]},"axis":null},
  "text":{"field":"c"}}},
{"data":{"values":[{}]},
 "mark":{"type":"rule","color":"black","strokeWidth":3.5},
 "encoding":{
  "x":{"datum":0,"type":"quantitative","scale":{"domain":[0,1],"range":[-914,-240],"nice":false,"zero":false},"axis":null},
  "x2":{"datum":1},
  "y":{"datum":"r1","type":"nominal","scale":{"type":"point","domain":["r1"],"range":[119.7,119.7]},"axis":null}}},
{"data":{"values":[{"t":"All Array\nModel"}]},
 "mark":{"type":"text","align":"center","baseline":"alphabetic","fontSize":33,"color":"black","angle":270,"lineBreak":"\n","lineHeight":44},
 "encoding":{
  "x":{"datum":"aam","type":"nominal","scale":{"type":"point","domain":["aam"],"range":[-1148,-1148]},"axis":null},
  "y":{"datum":"aam","type":"nominal","scale":{"type":"point","domain":["aam"],"range":[207,207]},"axis":null},
  "text":{"field":"t"}}},
{"data":{"name":"cols"},
 "mark":{"type":"text","align":"left","baseline":"alphabetic","fontSize":33,"color":"black"},
 "encoding":{
  "x":{"datum":"rowlab","type":"nominal","scale":{"type":"point","domain":["rowlab"],"range":[-1052.5,-1052.5]},"axis":null},
  "y":{"field":"c","type":"nominal","scale":{"type":"point","domain":["C1.MES","C2.IMM","C4.DIF","C5.PRO"],"range":[154,290],"padding":0},"axis":null},
  "text":{"field":"c"}}},
{"data":{"name":"cm"},
 "transform":[{"filter":"datum.r == datum.c"}],
 "mark":{"type":"text","align":"center","baseline":"alphabetic","fontSize":33,"fontWeight":"bold","color":"black"},
 "encoding":{
  "x":{"field":"c","type":"nominal","scale":{"type":"point","domain":["C1.MES","C2.IMM","C4.DIF","C5.PRO"],"range":[-823,-308.5],"padding":0},"axis":null},
  "y":{"field":"r","type":"nominal","scale":{"type":"point","domain":["C1.MES","C2.IMM","C4.DIF","C5.PRO"],"range":[154,290],"padding":0},"axis":null},
  "text":{"field":"n","type":"quantitative"}}},
{"data":{"name":"cm"},
 "transform":[{"filter":"datum.r != datum.c"}],
 "mark":{"type":"text","align":"center","baseline":"alphabetic","fontSize":33},
 "encoding":{
  "x":{"field":"c","type":"nominal","scale":{"type":"point","domain":["C1.MES","C2.IMM","C4.DIF","C5.PRO"],"range":[-823,-308.5],"padding":0},"axis":null},
  "y":{"field":"r","type":"nominal","scale":{"type":"point","domain":["C1.MES","C2.IMM","C4.DIF","C5.PRO"],"range":[154,290],"padding":0},"axis":null},
  "color":{"condition":{"test":"datum.n > 50","value":"#e61e1e"},"value":"black"},
  "text":{"field":"n","type":"quantitative"}}},
{"data":{"values":[{}]},
 "mark":{"type":"rule","color":"black","strokeWidth":3.5},
 "encoding":{
  "x":{"datum":0,"type":"quantitative","scale":{"domain":[0,1],"range":[-1059,-240],"nice":false,"zero":false},"axis":null},
  "x2":{"datum":1},
  "y":{"datum":"r2","type":"nominal","scale":{"type":"point","domain":["r2"],"range":[299.3,299.3]},"axis":null}}},
{"data":{"name":"agree"},
 "mark":{"type":"text","align":"left","baseline":"alphabetic","fontSize":28.5,"fontWeight":"bold","color":"black"},
 "encoding":{
  "x":{"datum":"lab","type":"nominal","scale":{"type":"point","domain":["lab"],"range":[-1051,-1051]},"axis":null},
  "y":{"field":"k","type":"nominal","scale":{"type":"point","domain":["Accuracy:","Kappa:"],"range":[375,420],"padding":0},"axis":null},
  "text":{"field":"k"}}},
{"data":{"name":"agree"},
 "mark":{"type":"text","align":"left","baseline":"alphabetic","fontSize":28.5,"color":"black"},
 "encoding":{
  "x":{"field":"k","type":"nominal","scale":{"type":"point","domain":["Accuracy:","Kappa:"],"range":[-908,-944],"padding":0},"axis":null},
  "y":{"field":"k","type":"nominal","scale":{"type":"point","domain":["Accuracy:","Kappa:"],"range":[375,420],"padding":0},"axis":null},
  "text":{"field":"v"}}},
{"data":{"values":[{"t":"Per Class Metrics:"}]},
 "mark":{"type":"text","align":"left","baseline":"alphabetic","fontSize":33,"fontWeight":"bold","color":"black"},
 "encoding":{
  "x":{"datum":"pcm","type":"nominal","scale":{"type":"point","domain":["pcm"],"range":[-1052.5,-1052.5]},"axis":null},
  "y":{"datum":"pcm","type":"nominal","scale":{"type":"point","domain":["pcm"],"range":[510,510]},"axis":null},
  "text":{"field":"t"}}},
{"data":{"name":"mhead"},
 "mark":{"type":"text","align":"center","baseline":"alphabetic","fontSize":33,"color":"black"},
 "encoding":{
  "x":{"field":"h","type":"nominal","scale":{"type":"point","domain":["Subtype","Sensitivity","Specificity","F-score"],"range":[-990.4,-478.6],"padding":0},"axis":null},
  "y":{"datum":"mh","type":"nominal","scale":{"type":"point","domain":["mh"],"range":[557,557]},"axis":null},
  "text":{"field":"h"}}},
{"data":{"values":[{}]},
 "mark":{"type":"rule","color":"black","strokeWidth":3.5},
 "encoding":{
  "x":{"datum":0,"type":"quantitative","scale":{"domain":[0,1],"range":[-1059,-389],"nice":false,"zero":false},"axis":null},
  "x2":{"datum":1},
  "y":{"datum":"r3","type":"nominal","scale":{"type":"point","domain":["r3"],"range":[567,567]},"axis":null}}},
{"data":{"name":"metrics"},
 "mark":{"type":"text","align":"center","baseline":"alphabetic","fontSize":33,"color":"black"},
 "encoding":{
  "x":{"datum":"Subtype","type":"nominal","scale":{"type":"point","domain":["Subtype","Sensitivity","Specificity","F-score"],"range":[-990.4,-478.6],"padding":0},"axis":null},
  "y":{"field":"Subtype","type":"nominal","scale":{"type":"point","domain":["C1.MES","C2.IMM","C4.DIF","C5.PRO"],"range":[604,735],"padding":0},"axis":null},
  "text":{"field":"Subtype"}}},
{"data":{"name":"metrics"},
 "transform":[{"fold":["Sensitivity","Specificity","F-score"],"as":["m","v"]}],
 "mark":{"type":"text","align":"center","baseline":"alphabetic","fontSize":33,"color":"black"},
 "encoding":{
  "x":{"field":"m","type":"nominal","scale":{"type":"point","domain":["Subtype","Sensitivity","Specificity","F-score"],"range":[-990.4,-478.6],"padding":0},"axis":null},
  "y":{"field":"Subtype","type":"nominal","scale":{"type":"point","domain":["C1.MES","C2.IMM","C4.DIF","C5.PRO"],"range":[604,735],"padding":0},"axis":null},
  "text":{"field":"v","type":"quantitative","format":".2f"}}},
{"data":{"values":[{"t":"B\u00a0\u00a0\u00a0\u00a0Predictive Entropy"}]},
 "mark":{"type":"text","align":"left","baseline":"alphabetic","fontSize":32,"fontWeight":"bold","color":"black"},
 "encoding":{
  "x":{"datum":"btitle","type":"nominal","scale":{"type":"point","domain":["btitle"],"range":[-24.3,-24.3]},"axis":null},
  "y":{"datum":"btitle","type":"nominal","scale":{"type":"point","domain":["btitle"],"range":[-23,-23]},"axis":null},
  "text":{"field":"t"}}},
{"layer":[
 {"data":{"name":"cons"},
  "mark":{"type":"point","filled":true,"size":110,"opacity":1},
  "encoding":{
   "x":{"field":"a","type":"quantitative","scale":{"domain":[0.504,2.07],"nice":false,"zero":false},
    "axis":{"values":[0.75,1,1.25,1.5,1.75,2],"grid":true,"gridColor":"#ebebeb","gridWidth":1.3,"domain":false,
     "tickSize":5,"tickColor":"#333333","tickWidth":1.2,
     "tickOpacity":{"condition":{"test":"datum.value == 0.75 || datum.value == 1.25 || datum.value == 1.75","value":0},"value":1},
     "labelExpr":"(datum.value == 0.75 || datum.value == 1.25 || datum.value == 1.75) ? '' : format(datum.value, '.1f')",
     "labelFont":"Liberation Sans","labelFontSize":20,"labelColor":"#4d4d4d","labelPadding":8,"labelOffset":-7.5,"labelFlush":false,"labelOverlap":false,
     "title":"All Array","titleFont":"Liberation Sans","titleFontSize":25,"titleFontWeight":"normal","titleColor":"black",
     "titleX":353,"titleY":63,"titleAlign":"center","titleBaseline":"alphabetic"}},
   "y":{"field":"t","type":"quantitative","scale":{"domain":[-0.023,2.098],"nice":false,"zero":false},
    "axis":{"values":[0.5,0.75,1,1.25,1.5,1.75,2],"grid":true,"gridColor":"#ebebeb","gridWidth":1.3,"domain":false,
     "tickSize":5.5,"tickColor":"#333333","tickWidth":1.2,
     "tickOpacity":{"condition":{"test":"datum.value == 0.75 || datum.value == 1.25 || datum.value == 1.75","value":0},"value":1},
     "labelExpr":"(datum.value == 0.75 || datum.value == 1.25 || datum.value == 1.75) ? '' : format(datum.value, '.1f')",
     "labelFont":"Liberation Sans","labelFontSize":20,"labelColor":"#4d4d4d","labelPadding":12.5,"labelFlush":false,"labelOverlap":false,
     "title":"TCGA","titleFont":"Liberation Sans","titleFontSize":26,"titleFontWeight":"normal","titleColor":"black",
     "titleX":-53,"titleY":264,"titleAngle":270,"titleAlign":"center","titleBaseline":"alphabetic"}},
   "color":{"datum":"Consensus","type":"nominal","scale":{"domain":["Consensus","Non-Consensus"],"range":["#66c2a5","#fc8d62"]},
    "legend":{"orient":"none","legendX":55.5,"legendY":49,"title":null,"labelFont":"Liberation Sans","labelFontSize":26,"labelColor":"black","labelLimit":0,
     "symbolType":"circle","symbolSize":64,"symbolStrokeWidth":0,"symbolOpacity":1,"labelOffset":21.5,"rowPadding":6,"padding":0}}}},
 {"data":{"name":"non"},
  "mark":{"type":"point","filled":true,"size":110,"opacity":1},
  "encoding":{
   "x":{"field":"a","type":"quantitative"},
   "y":{"field":"t","type":"quantitative"},
   "color":{"datum":"Non-Consensus","type":"nominal"}}}
]}
]
}
